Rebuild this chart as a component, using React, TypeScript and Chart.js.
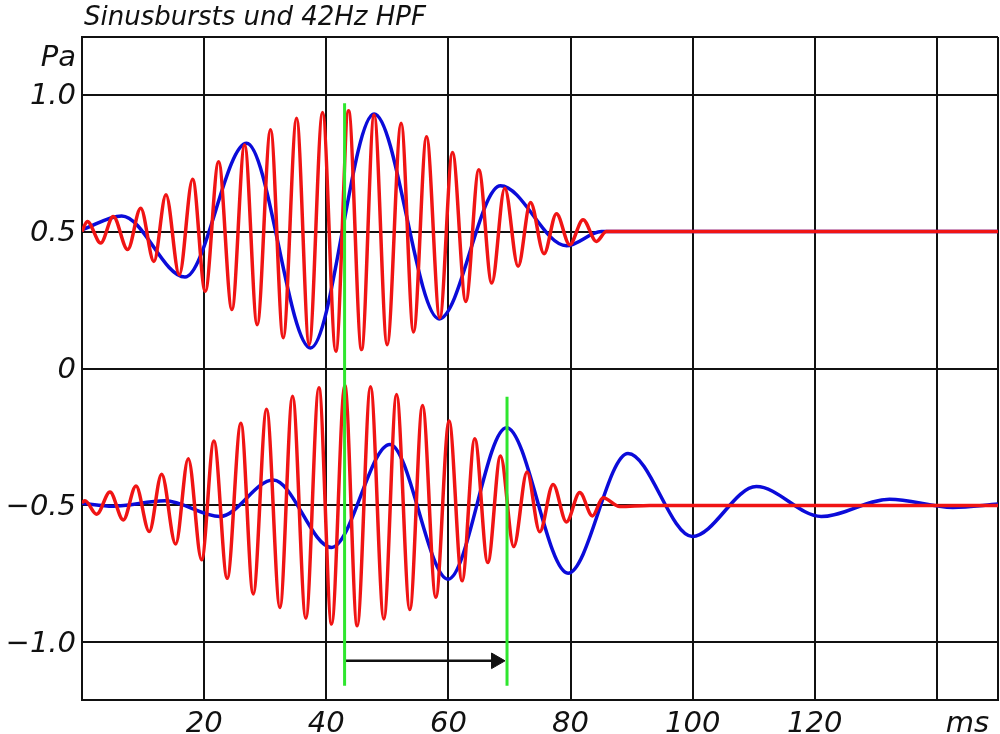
import React, { useEffect, useRef } from 'react';
import { Chart, registerables } from 'chart.js';

Chart.register(...registerables);

const TITLE = 'Sinusbursts und 42Hz HPF';

// Red burst, top trace (offset +0.5 Pa): times (ms) of peaks/troughs and values (Pa)
const redTopT = [0, 0.87, 3.06, 5.12, 7.48, 9.61, 11.78, 13.75, 15.93, 18.12, 20.18, 22.37, 24.55, 26.63, 28.69, 30.88, 32.95, 35.14, 37.2, 39.39, 41.57, 43.65, 45.78, 47.84, 49.97, 52.26, 54.29, 56.42, 58.59, 60.67, 62.85, 64.98, 67.1, 69.23, 71.41, 73.44, 75.66, 77.69, 79.87, 82.05, 84.24, 85.87, 150];
const redTopV = [0.5, 0.537, 0.458, 0.555, 0.434, 0.585, 0.391, 0.634, 0.342, 0.691, 0.282, 0.755, 0.215, 0.816, 0.16, 0.871, 0.112, 0.913, 0.087, 0.934, 0.063, 0.941, 0.069, 0.925, 0.087, 0.895, 0.133, 0.846, 0.185, 0.788, 0.245, 0.725, 0.312, 0.658, 0.373, 0.606, 0.419, 0.565, 0.452, 0.543, 0.464, 0.5, 0.5];

// Blue burst, top trace
const blueTopT = [0, 6.5, 16.86, 26.96, 37.43, 47.84, 58.48, 68.53, 79.33, 85.06, 150];
const blueTopV = [0.506, 0.557, 0.334, 0.822, 0.075, 0.929, 0.181, 0.667, 0.448, 0.5, 0.5];

// Red burst after 42 Hz HPF (offset -0.5 Pa)
const redBotT = [0, 0.49, 2.41, 4.58, 6.76, 8.84, 11.01, 13.04, 15.34, 17.4, 19.59, 21.6, 23.78, 26.02, 28.04, 30.23, 32.41, 34.48, 36.66, 38.79, 40.87, 43.04, 45.06, 47.25, 49.43, 51.51, 53.68, 55.76, 57.94, 60.11, 62.24, 64.32, 66.45, 68.53, 70.7, 72.88, 74.96, 77.14, 79.33, 81.51, 83.58, 85.32, 88.05, 92.96, 150];
const redBotV = [-0.49, -0.483, -0.532, -0.451, -0.553, -0.429, -0.595, -0.386, -0.641, -0.329, -0.698, -0.265, -0.766, -0.2, -0.823, -0.149, -0.872, -0.101, -0.912, -0.07, -0.933, -0.062, -0.939, -0.067, -0.914, -0.095, -0.88, -0.135, -0.835, -0.192, -0.775, -0.256, -0.708, -0.319, -0.65, -0.378, -0.596, -0.423, -0.56, -0.453, -0.538, -0.472, -0.504, -0.5, -0.5];

// Blue burst after 42 Hz HPF
const blueBotT = [0, 5.07, 13.58, 22.59, 31.31, 40.87, 50.41, 59.95, 69.51, 79.59, 89.41, 99.95, 110.43, 121.06, 132.24, 142.6, 150];
const blueBotV = [-0.492, -0.503, -0.483, -0.54, -0.407, -0.653, -0.277, -0.769, -0.216, -0.747, -0.31, -0.613, -0.431, -0.54, -0.477, -0.507, -0.495];

// Green markers (ms) and their vertical extents (Pa)
const markerT = [43.0, 69.6];
const markerTopV = [0.968, -0.103];
const markerBottomV = -1.158;

// Delay arrow
const arrowT = [43.0, 67.8];
const arrowV = -1.067;

// Axes
const xMin = 0;
const xMax = 150;
const yMin = -1.21;
const yMax = 1.21;
const xTickValues = [0, 20, 40, 60, 80, 100, 120, 140, 145, 150];
const xTickLabels = ['', '20', '40', '60', '80', '100', '120', '', 'ms', ''];
const yTickValues = [-1.21, -1, -0.5, 0, 0.5, 1, 1.14, 1.21];
const yTickLabels = ['', '\u22121.0', '\u22120.5', '0', '0.5', '1.0', 'Pa', ''];
const unitLabels = ['ms', 'Pa'];

const RED = '#f01414';
const BLUE = '#0b0bd9';
const GREEN = '#2ee62e';
const INK = '#111111';

const pts = (t: number[], v: number[]) => t.map((x, i) => ({ x, y: v[i] }));

const titlePlugin = {
  id: 'plotTitle',
  afterDraw(chart: any) {
    const ctx = chart.ctx;
    ctx.save();
    ctx.font = 'italic 26px "DejaVu Sans"';
    ctx.fillStyle = INK;
    ctx.textAlign = 'left';
    ctx.textBaseline = 'alphabetic';
    ctx.fillText(TITLE, chart.chartArea.left + 2, 25);
    ctx.restore();
  },
};

export default function App() {
  const ref = useRef<HTMLCanvasElement | null>(null);

  useEffect(() => {
    if (!ref.current) return;
    const tickFont = { family: '"DejaVu Sans"', size: 29, style: 'italic' as const };
    const gridColor = (labels: string[]) => (c: any) => {
      const lbl = labels[c.index];
      return unitLabels.includes(lbl) ? 'rgba(0,0,0,0)' : INK;
    };
    const chart = new Chart(ref.current, {
      type: 'line',
      data: {
        datasets: [
          ...markerT.map((t, i) => ({
            label: 'marker' + i,
            data: [{ x: t, y: markerTopV[i] }, { x: t, y: markerBottomV }],
            borderColor: GREEN,
            borderWidth: 3,
            pointRadius: 0,
          })),
          {
            label: 'arrow',
            data: arrowT.map((t) => ({ x: t, y: arrowV })),
            borderColor: INK,
            borderWidth: 2.5,
            pointRadius: [0, 9],
            pointStyle: 'triangle',
            rotation: 90,
            pointBackgroundColor: INK,
            pointBorderColor: INK,
            pointBorderWidth: 1,
          },
          { label: 'redTop', data: pts(redTopT, redTopV), borderColor: RED, borderWidth: 3.5, pointRadius: 0, cubicInterpolationMode: 'monotone' },
          { label: 'redBot', data: pts(redBotT, redBotV), borderColor: RED, borderWidth: 3.5, pointRadius: 0, cubicInterpolationMode: 'monotone' },
          { label: 'blueTop', data: pts(blueTopT, blueTopV), borderColor: BLUE, borderWidth: 3.5, pointRadius: 0, cubicInterpolationMode: 'monotone' },
          { label: 'blueBot', data: pts(blueBotT, blueBotV), borderColor: BLUE, borderWidth: 3.5, pointRadius: 0, cubicInterpolationMode: 'monotone' },
        ] as any,
      },
      options: {
        animation: false,
        responsive: false,
        maintainAspectRatio: false,
        layout: { autoPadding: false, padding: { top: 37, right: 2, left: 0, bottom: 0 } },
        plugins: { legend: { display: false }, tooltip: { enabled: false }, title: { display: false } },
        elements: { line: { fill: false } },
        scales: {
          x: {
            type: 'linear',
            min: xMin,
            max: xMax,
            afterBuildTicks: (s: any) => { s.ticks = xTickValues.map((value) => ({ value })); },
            afterFit: (s: any) => { s.height = 34; s.paddingLeft = 0; s.paddingRight = 0; },
            ticks: {
              autoSkip: false,
              maxRotation: 0,
              padding: 7,
              color: INK,
              font: tickFont,
              callback: (_v: any, i: number) => xTickLabels[i],
            },
            grid: { color: gridColor(xTickLabels), lineWidth: 2, drawTicks: false },
            border: { display: true, color: INK, width: 2 },
          },
          y: {
            type: 'linear',
            min: yMin,
            max: yMax,
            afterBuildTicks: (s: any) => { s.ticks = yTickValues.map((value) => ({ value })); },
            afterFit: (s: any) => { s.width = 82; s.paddingTop = 0; s.paddingBottom = 0; },
            ticks: {
              autoSkip: false,
              padding: 6,
              labelOffset: 2,
              color: INK,
              font: tickFont,
              callback: (_v: any, i: number) => yTickLabels[i],
            },
            grid: { color: gridColor(yTickLabels), lineWidth: 2, drawTicks: false },
            border: { display: true, color: INK, width: 2 },
          },
        },
      } as any,
      plugins: [titlePlugin],
    });
    return () => chart.destroy();
  }, []);

  return (
    <div style={{ position: 'fixed', left: 0, top: 0, width: 1000, height: 734, background: '#ffffff' }}>
      <canvas ref={ref} width={1000} height={734} style={{ display: 'block', width: 1000, height: 734 }} />
    </div>
  );
}
